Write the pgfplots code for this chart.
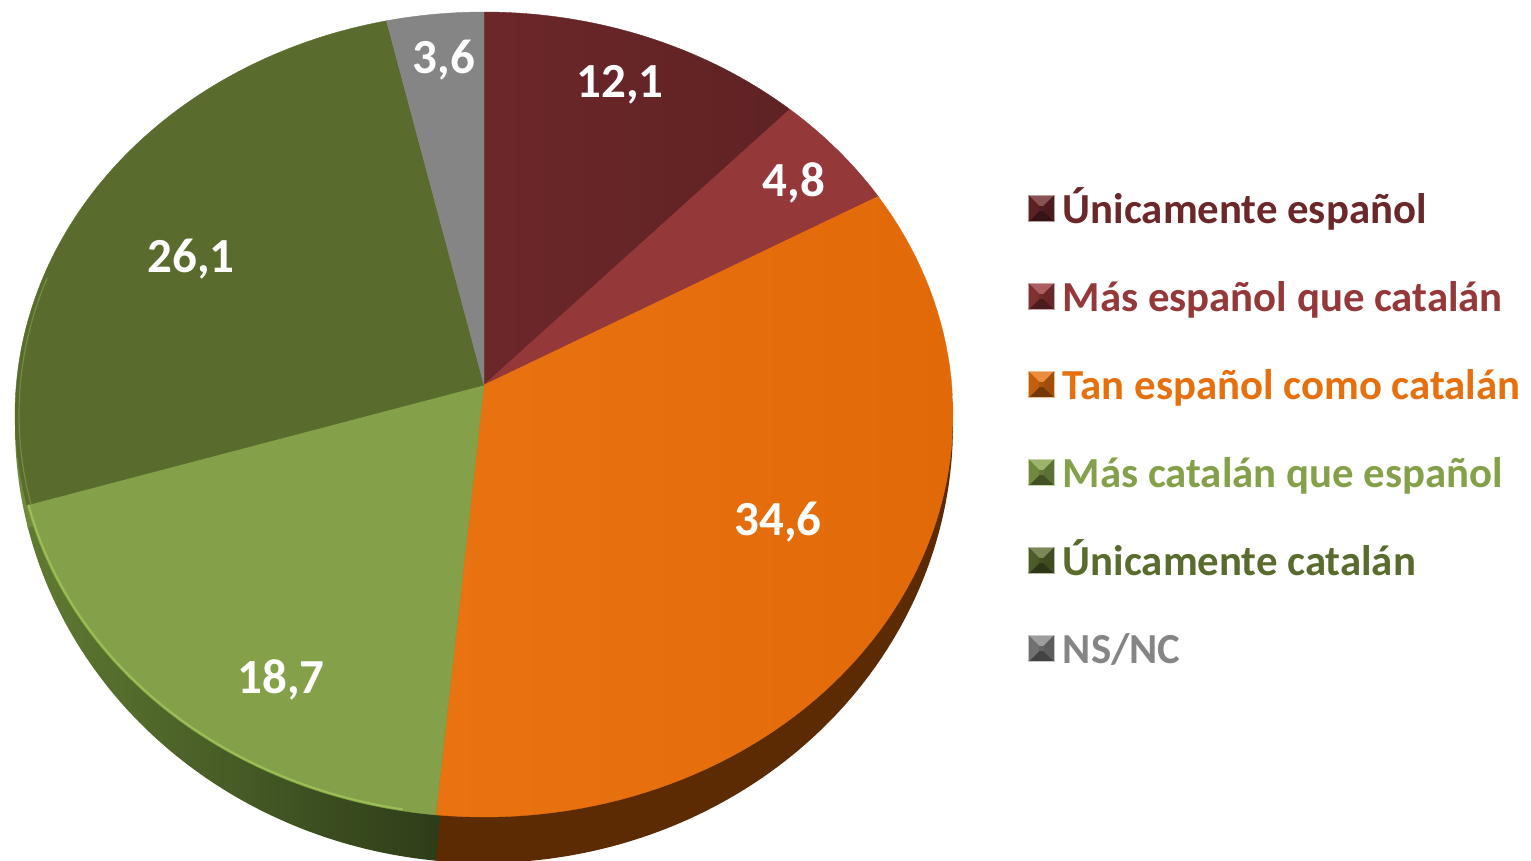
\documentclass[border=0pt]{standalone}
\usepackage{pgfplots}
\usepackage{fontspec}
\setmainfont{Carlito}
\pgfplotsset{compat=1.18}
\definecolor{cA}{HTML}{6C2729}
\definecolor{cB}{HTML}{953839}
\definecolor{cC}{HTML}{E66F0E}
\definecolor{cCl}{HTML}{EA7311}
\definecolor{cCr}{HTML}{E26908}
\definecolor{cD}{HTML}{84A14A}
\definecolor{cE}{HTML}{5A6B2E}
\definecolor{cF}{HTML}{858585}
% share (%), rim start and rim end (degrees clockwise from the top of the pie as it is foreshortened):
% 12.1: 0-40.7 | 4.8: 40.7-57.2 | 34.6: 57.2-185.9 | 18.7: 185.9-257 | 26.1: 257-348 | 3.6: 348-360
\newcommand{\pyr}[1]{%
  \begin{scope}[yshift=-4pt]
  \fill[#1!45!white] (0pt,0pt) rectangle (13pt,13pt);
  \fill[#1!80!white] (0.5pt,12.5pt) -- (12.5pt,12.5pt) -- (7.5pt,7.5pt) -- (5.5pt,7.5pt) -- cycle;
  \fill[#1!50!black] (0.5pt,0.5pt) -- (12.5pt,0.5pt) -- (7.5pt,5.5pt) -- (5.5pt,5.5pt) -- cycle;
  \fill[#1!85!black] (0.5pt,0.5pt) -- (0.5pt,12.5pt) -- (5.5pt,7.5pt) -- (5.5pt,5.5pt) -- cycle;
  \fill[#1!70!black] (12.5pt,0.5pt) -- (12.5pt,12.5pt) -- (7.5pt,7.5pt) -- (7.5pt,5.5pt) -- cycle;
  \fill[#1!75!black] (5.5pt,5.5pt) rectangle (7.5pt,7.5pt);
  \path (17pt,0pt);
  \end{scope}
}
\newcommand{\topface}[3]{%
  \addplot[#3,domain=#1:#2,samples=80,forget plot]
    ({484+469*sin(x)},{414.5-402.5*cos(x)}) -- (axis cs:484,385) -- cycle;
}
\newcommand{\sideface}[3]{%
  \addplot[#3,domain=#1:#2,samples=80,forget plot]
    ({484+469*sin(x)},{426-437*cos(x)}) -- (axis cs:484,385) -- cycle;
}
\newcommand{\legitem}[2]{%
  \addlegendimage{legend image code/.code={\pyr{#1}}}
  \addlegendentry{\textcolor{#1}{#2}}
}
\begin{document}
\begin{tikzpicture}
\begin{axis}[
  scale only axis,
  width=765.5pt,height=430.5pt,
  xmin=0,xmax=1531,ymin=0,ymax=861,
  y dir=reverse,
  hide axis,
  clip=true,
  legend cell align=left,
  legend style={
    draw=none,fill=none,
    at={(axis cs:1028,189.5)},anchor=north west,
    inner sep=0pt,outer sep=0pt,
    row sep=20pt,
    font=\fontsize{21.4}{21.4}\selectfont\bfseries,
    nodes={inner sep=0pt,text height=17pt,text depth=7pt},
  },
]
% invisible corners keep the full frame
\addplot[draw=none,forget plot] coordinates {(0,0) (1531,861)};
% sides of the disc
\sideface{85}{186}{draw=none,fill={rgb,255:red,92;green,43;blue,4}}
\sideface{185.9}{257}{draw=none,left color={rgb,255:red,96;green,122;blue,50},right color={rgb,255:red,40;green,54;blue,22}}
\sideface{256.5}{285}{draw=none,fill={rgb,255:red,110;green,138;blue,58}}
% top faces
\topface{0}{40.7}{draw=cA,line width=0.2pt,left color=cA!100!white,right color=cA!88!black}
\topface{40.7}{57.2}{draw=cB,line width=0.2pt,fill=cB}
\topface{57.2}{185.9}{draw=cC,line width=0.2pt,left color=cCl,right color=cCr}
\topface{185.9}{257}{draw=cD,line width=0.2pt,fill=cD}
\topface{257}{348}{draw=cE,line width=0.2pt,fill=cE}
\topface{348}{360}{draw=cF,line width=0.2pt,fill=cF}
\legitem{cA}{Únicamente español}
\legitem{cB}{Más español que catalán}
\legitem{cC}{Tan español como catalán}
\legitem{cD}{Más catalán que español}
\legitem{cE}{Únicamente catalán}
\legitem{cF}{NS/NC}
% rim highlight of the light-green slice
\addplot[draw={rgb,255:red,155;green,190;blue,85},line width=1pt,domain=190:257,samples=50,forget plot]
  ({484+467.5*sin(x)},{414.5-401*cos(x)});
\addplot[draw={rgb,255:red,115;green,140;blue,62},line width=0.6pt,domain=257:290,samples=30,forget plot]
  ({484+465*sin(x)},{414.5-399*cos(x)});
% value labels
\addplot[only marks,mark=none,forget plot,
  nodes near coords,point meta=explicit symbolic,
  every node near coord/.append style={anchor=center,inner sep=0pt,text=white,
    font=\fontsize{24.5}{24.5}\selectfont\bfseries}]
  table[x=x,y=y,meta=label]{
x y label
620 85 12,1
794 183 4,8
778 522 34,6
281 680 18,7
191 259 26,1
444 60 3,6
};
\end{axis}
\end{tikzpicture}
\end{document}
